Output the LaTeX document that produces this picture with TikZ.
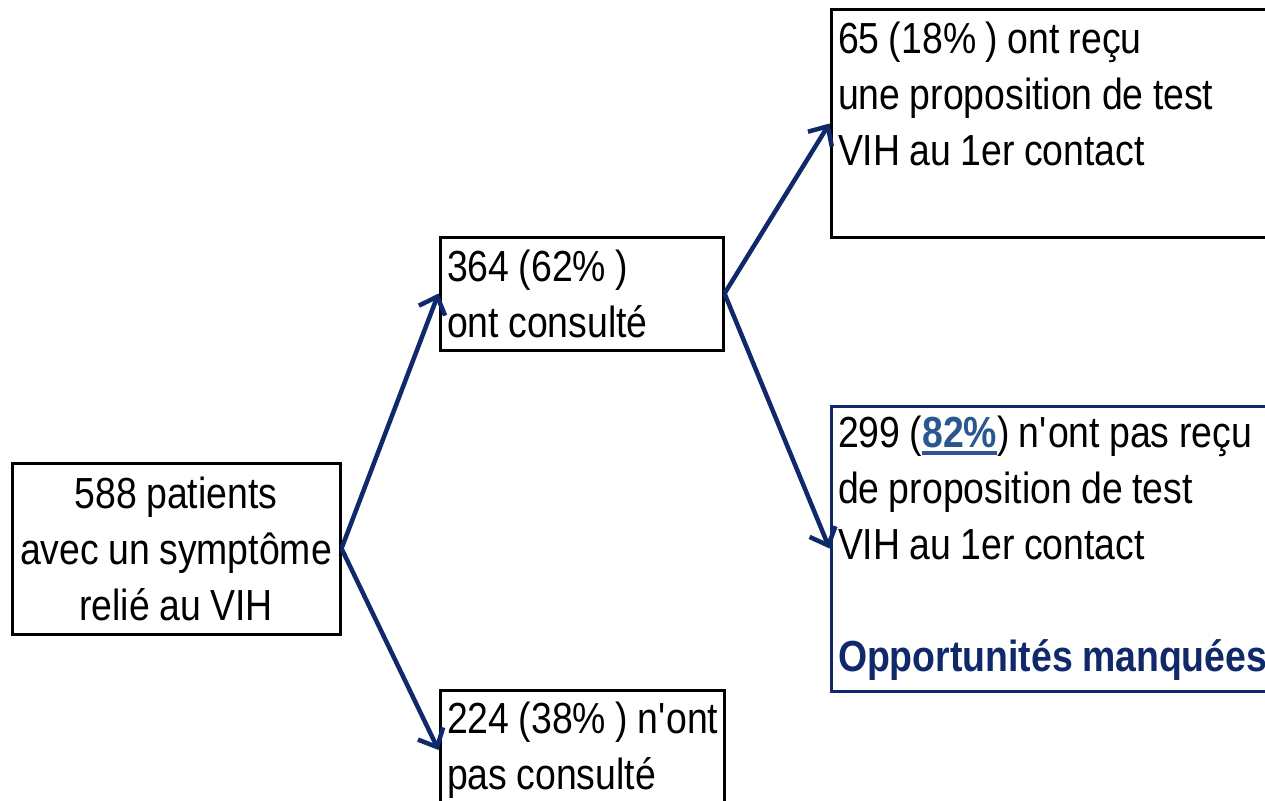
\documentclass[tikz,border=0pt]{standalone}
\usepackage{fontspec}
\setmainfont{Liberation Sans}[FakeStretch=0.86,WordSpace=0.9]
\usetikzlibrary{arrows.meta}
\definecolor{navy}{HTML}{10296B}
\definecolor{steel}{HTML}{2B5790}
\newcommand\thickul[1]{\setbox0\hbox{#1}\rlap{\rule[-7pt]{\wd0}{3.5pt}}#1}
\newcommand\apo{\textquotesingle}
\begin{document}
\begin{tikzpicture}[x=1pt,y=-1pt,
  box/.style={draw=black,line width=3pt,rectangle,inner xsep=7pt,inner ysep=0pt,
    font=\fontsize{43.5}{56}\selectfont},
  conn/.style={draw=navy,line width=4.5pt,-{Straight Barb[length=15pt,width=28pt,line width=4.5pt]}}]
\useasboundingbox (0,0) rectangle (1265,800);
\fill[white] (0,0) rectangle (1265,800);
\node[box,minimum width=328pt,minimum height=171pt,align=center] (A) at (176,548.5)
  {588 patients\\avec un symptôme\\relié au VIH};
\node[box,minimum width=283pt,minimum height=113pt,text width=269pt,align=flush left] (B) at (581.5,293.5)
  {364 (62\% )\\ont consulté};
\node[box,minimum width=284pt,minimum height=120pt,text width=270pt,align=flush left] (C) at (582,750)
  {\mbox{224 (38\% ) n\apo ont}\\pas consulté};
\node[box,minimum width=444pt,minimum height=227pt,text width=430pt,align=flush left] (D) at (1053,123.5)
  {65 (18\% ) ont reçu\\une proposition de test\\VIH au 1er contact\\[-14pt]\strut};
\node[box,draw=navy,minimum width=444pt,minimum height=285pt,text width=430pt,align=flush left] (E) at (1053,548.5)
  {299 ({\color{steel}\bfseries\thickul{82\%}}) n\apo ont pas reçu\\de proposition de test\\VIH au 1er contact\\\strut\\\mbox{\color{navy}\bfseries Opportunités manquées}};
\draw[conn] (A.east) -- (B.west);
\draw[conn] (A.east) -- (C.west);
\draw[conn] (B.east) -- (D.west);
\draw[conn] (B.east) -- (E.west);
\end{tikzpicture}
\end{document}
